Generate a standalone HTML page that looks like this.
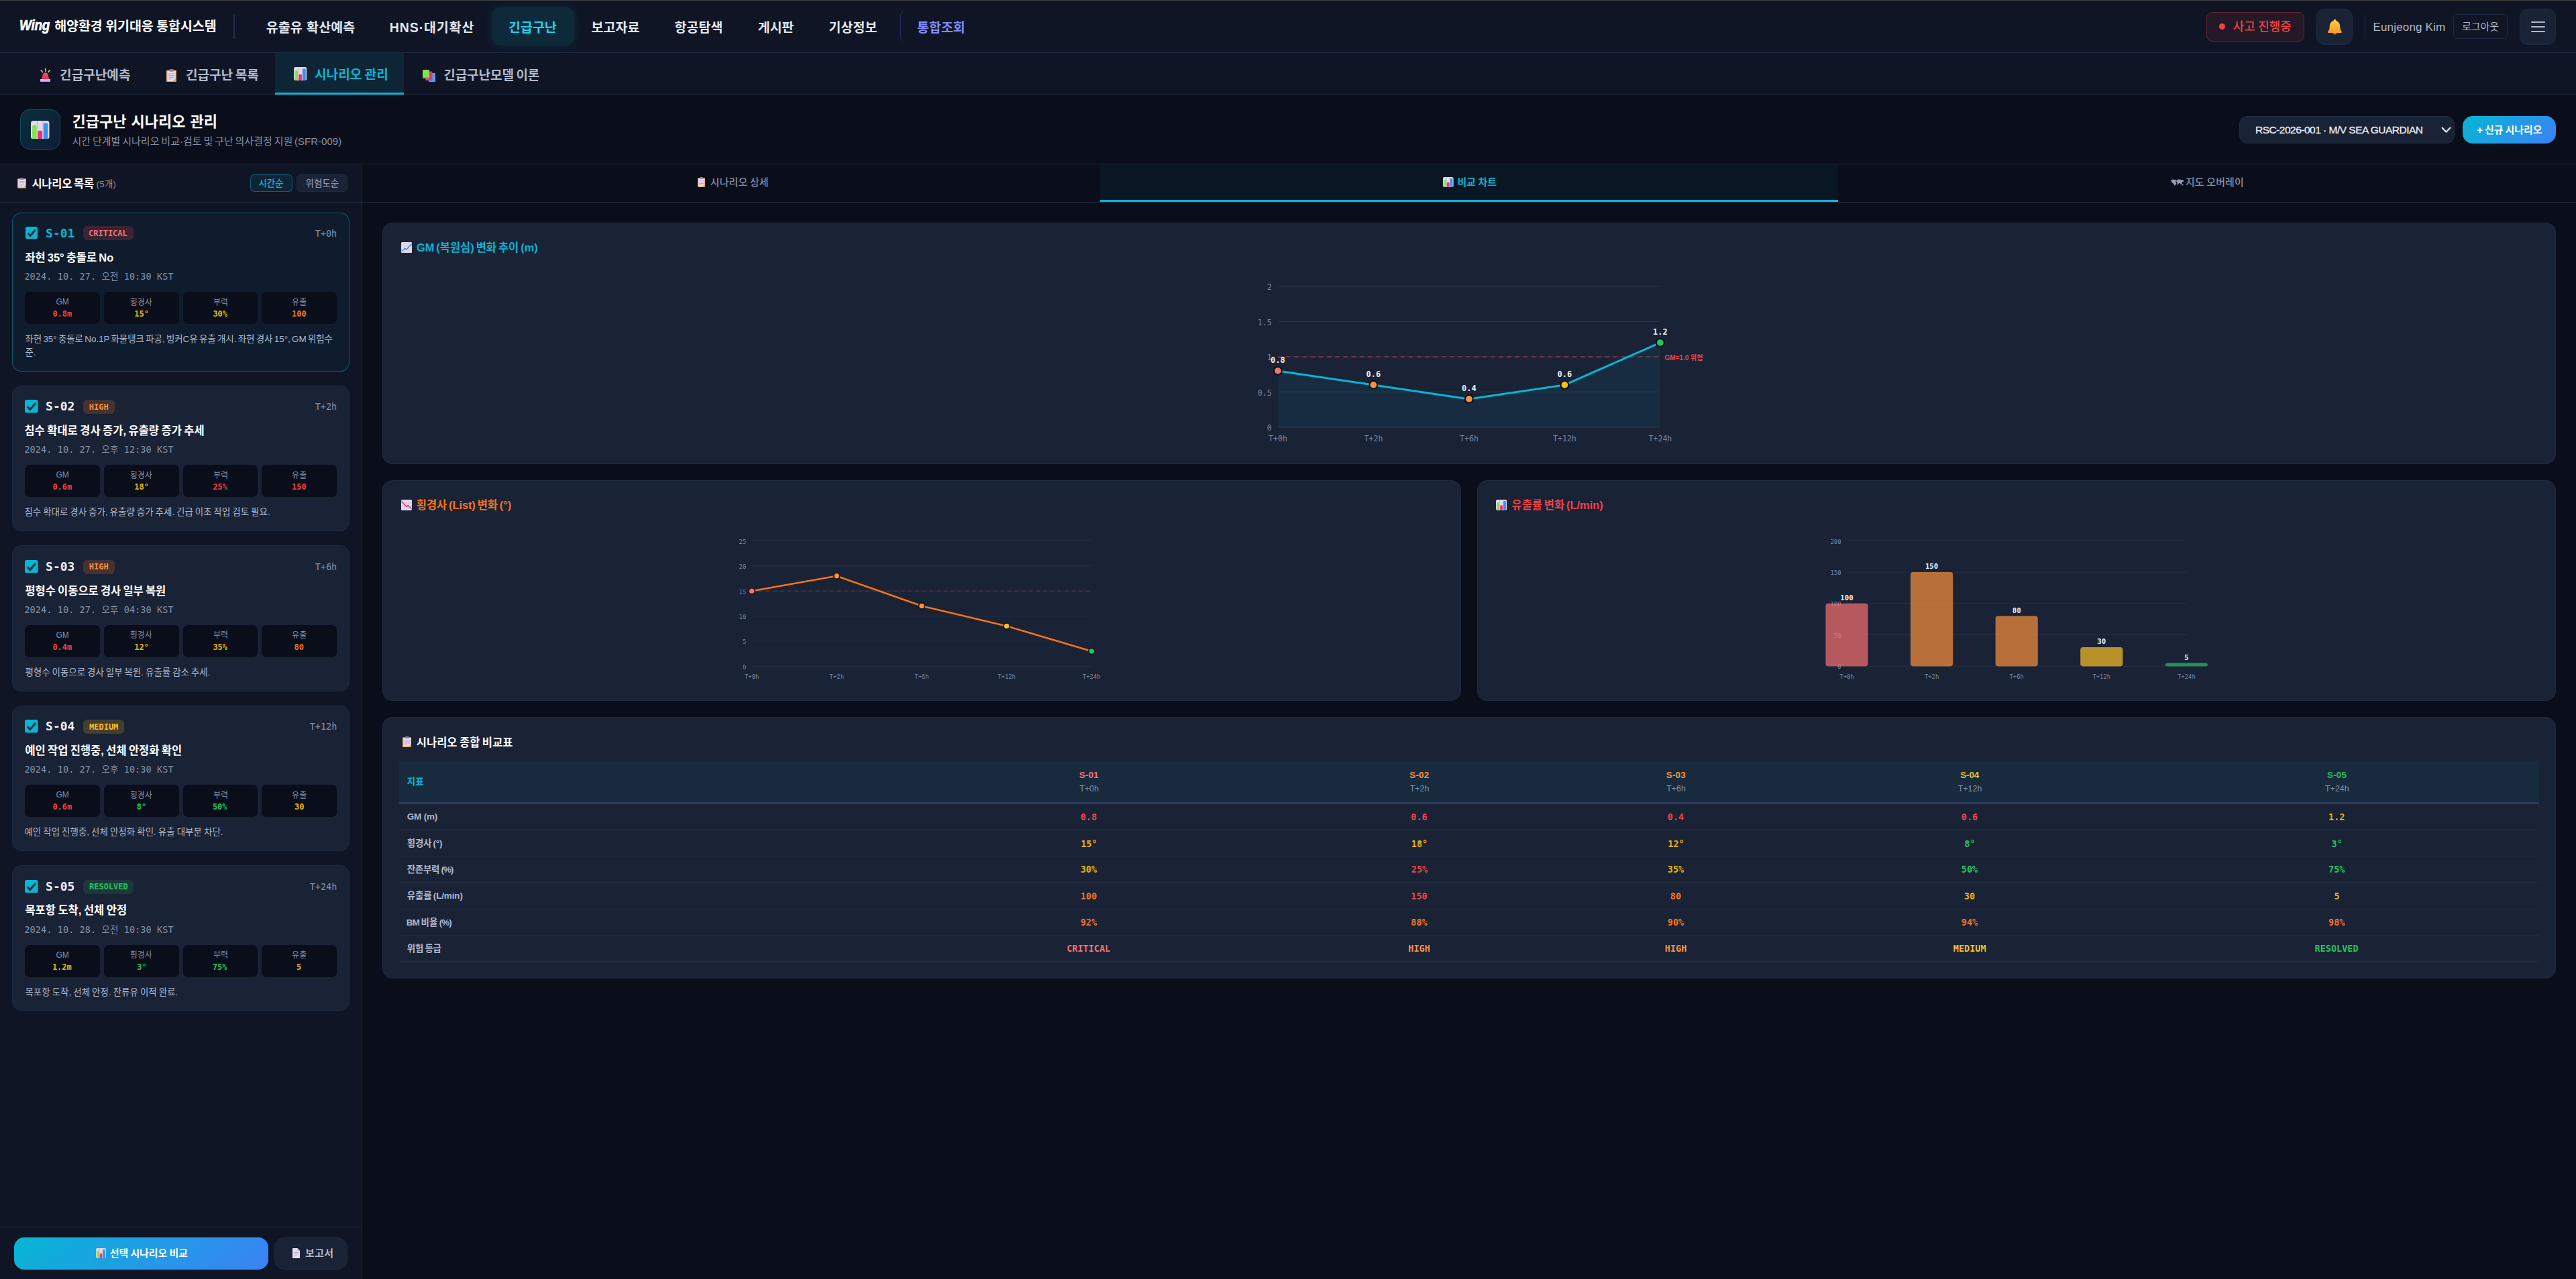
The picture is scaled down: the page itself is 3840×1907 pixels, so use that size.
<!DOCTYPE html>
<html lang="ko"><head><meta charset="utf-8"><title>해양환경 위기대응 통합시스템 - 긴급구난 시나리오 관리</title>
<style>
html,body{margin:0;padding:0;background:#0a0e1a}
body{position:relative;width:3840px;height:1907px;overflow:hidden;font-family:'Liberation Sans','Noto Sans CJK KR',sans-serif}
body>div,body>svg{position:absolute;box-sizing:border-box}
.t{white-space:nowrap;line-height:40px}
</style></head><body>
<div style="left:0px;top:0px;width:3840px;height:79px;background:#0f1524;border-bottom:1px solid #1e2a42"></div>
<div style="left:0px;top:0px;width:3840px;height:1px;background:#434341"></div>
<div class="t" style="left:28.5px;top:17.5px;font-size:22.5px;font-weight:700;font-style:italic;color:#fff;transform:scaleX(.84);transform-origin:0 50%;letter-spacing:-.3px;-webkit-text-stroke:.7px #fff">Wing</div>
<div class="t" style="left:81.2px;top:19px;font-size:19.5px;font-weight:700;color:#fff;letter-spacing:-0.06px;word-spacing:-0.90px;">해양환경 위기대응 통합시스템</div>
<div style="left:348px;top:21px;width:2px;height:37px;background:#222d47"></div>
<div style="left:733px;top:11px;width:122.5px;height:57px;background:rgba(6,182,212,.125);border-radius:13px;box-shadow:0 0 16px rgba(6,182,212,.13)"></div>
<div class="t" style="left:396.7px;top:21px;font-size:19.5px;font-weight:700;color:#e2e6f0;letter-spacing:0.14px;word-spacing:0.58px;">유출유 확산예측</div>
<div class="t" style="left:580.8px;top:21px;font-size:19.5px;font-weight:700;color:#e2e6f0;letter-spacing:0.89px;">HNS·대기확산</div>
<div class="t" style="left:758.0px;top:21px;font-size:19.5px;font-weight:700;color:#22d3ee;">긴급구난</div>
<div class="t" style="left:881.6px;top:21px;font-size:19.5px;font-weight:700;color:#e2e6f0;">보고자료</div>
<div class="t" style="left:1005.6px;top:21px;font-size:19.5px;font-weight:700;color:#e2e6f0;">항공탐색</div>
<div class="t" style="left:1129.7px;top:21px;font-size:19.5px;font-weight:700;color:#e2e6f0;">게시판</div>
<div class="t" style="left:1235.6px;top:21px;font-size:19.5px;font-weight:700;color:#e2e6f0;">기상정보</div>
<div style="left:1342px;top:12px;width:40px;height:55px;border-left:1px solid rgba(99,102,241,.28);border-radius:12px 0 0 12px"></div>
<div class="t" style="left:1367.0px;top:21px;font-size:19.5px;font-weight:700;color:#818cf8;">통합조회</div>
<div style="left:3289px;top:18px;width:146px;height:44px;background:rgba(239,68,68,.10);border:1px solid rgba(239,68,68,.30);border-radius:9px;"></div>
<div style="left:3308.3px;top:35.3px;width:9px;height:9px;background:#ef4444;border-radius:50%"></div>
<div class="t" style="left:3328.8px;top:20px;font-size:18px;font-weight:500;color:#ef4444;letter-spacing:-0.08px;word-spacing:-0.40px;">사고 진행중</div>
<div style="left:3453px;top:13px;width:54px;height:54px;background:#1a2236;border:1px solid #1e2a42;border-radius:12px;"></div>
<svg style="left:3467.5px;top:28px" width="25" height="25" viewBox="0 0 24 24" preserveAspectRatio="none"><defs><linearGradient id="bg1" x1="0" y1="0" x2="0" y2="1"><stop offset="0" stop-color="#ffd23f"/><stop offset="1" stop-color="#f79a2e"/></linearGradient></defs><path d="M9.2 20.4a2.9 2.9 0 0 0 5.6 0z" fill="#e8802a"/><path d="M12 0.6c-1 0-1.8 0.8-1.8 1.8v0.4C6.8 3.7 4.6 6.8 4.6 10.4c0 4-0.9 6.2-2.4 7.8-0.7 0.7-0.2 1.9 0.8 1.9h18c1 0 1.5-1.2 0.8-1.9-1.5-1.6-2.4-3.8-2.4-7.8 0-3.6-2.2-6.7-5.6-7.6v-0.4c0-1-0.8-1.8-1.8-1.8z" fill="url(#bg1)"/></svg>
<div style="left:3525px;top:21px;width:1px;height:37px;background:#1e2a42"></div>
<div class="t" style="left:3537.5px;top:21px;font-size:17px;font-weight:400;color:#b0b8cc;letter-spacing:0.16px;">Eunjeong Kim</div>
<div style="left:3657px;top:21px;width:81px;height:37px;background:transparent;border:1px solid #1e2a42;border-radius:6px;"></div>
<div class="t" style="left:3669.9px;top:20px;font-size:15px;font-weight:400;color:#b0b8cc;">로그아웃</div>
<div style="left:3756px;top:13px;width:54px;height:54px;background:#1a2236;border:1px solid #1e2a42;border-radius:12px;"></div>
<div style="left:3773px;top:32.2px;width:20.5px;height:2px;background:#b0b8cc;border-radius:1px"></div>
<div style="left:3773px;top:39px;width:20.5px;height:2px;background:#b0b8cc;border-radius:1px"></div>
<div style="left:3773px;top:45.8px;width:20.5px;height:2px;background:#b0b8cc;border-radius:1px"></div>
<div style="left:0px;top:79px;width:3840px;height:63px;background:#0f1524;border-bottom:1px solid #1e2a42"></div>
<div style="left:410px;top:79px;width:192px;height:62px;background:rgba(6,182,212,.10);border-bottom:3px solid #06b6d4"></div>
<svg style="left:59.8px;top:102px" width="15.3" height="20" viewBox="0 0 16 20" preserveAspectRatio="none"><defs><linearGradient id="sg1" x1="0" y1="0" x2="0" y2="1"><stop offset="0" stop-color="#ff4a4a"/><stop offset="1" stop-color="#f2295b"/></linearGradient><linearGradient id="sg2" x1="0" y1="0" x2="0" y2="1"><stop offset="0" stop-color="#e6d0f8"/><stop offset="1" stop-color="#b98fe0"/></linearGradient></defs><path d="M2.2 16.4L3.8 9.8C4.3 7.6 6 6.2 8 6.2s3.700 1.400 4.200 3.600l1.600 6.600z" fill="url(#sg1)"/><ellipse cx="9.8" cy="8.600" rx="1.100" ry=".8" fill="#ff9aa6"/><rect x="0" y="16" width="16" height="4" rx=".8" fill="url(#sg2)"/><path d="M8 0.600v3.600M1.200 2.800l2.400 2.600M14.800 2.800l-2.400 2.600" stroke="#ffc53a" stroke-width="1.600" stroke-linecap="round" fill="none"/></svg>
<div class="t" style="left:89.1px;top:93px;font-size:19.1px;font-weight:700;color:#b0b8cc;">긴급구난예측</div>
<svg style="left:248px;top:102.5px" width="15.2" height="19.4" viewBox="0 0 13 16" preserveAspectRatio="none"><rect x="0" y="1.2" width="13" height="14.8" rx="1.2" fill="#e39a62"/><rect x="1.2" y="2.4" width="10.6" height="12.4" rx=".5" fill="#e6deef"/><rect x="3.8" y="0" width="5.4" height="3" rx="1" fill="#8c8196"/><rect x="2.6" y="5.2" width="7.8" height=".9" fill="#b3a8c2"/><rect x="2.6" y="7.4" width="7.8" height=".9" fill="#b3a8c2"/><rect x="2.6" y="9.6" width="7.8" height=".9" fill="#b3a8c2"/><rect x="2.6" y="11.8" width="4.4" height=".9" fill="#b3a8c2"/><path d="M8.4 14.8l3.4-3.4v3.4z" fill="#e39a62"/></svg>
<div class="t" style="left:277.0px;top:93px;font-size:19.1px;font-weight:700;color:#b0b8cc;letter-spacing:-0.07px;word-spacing:-1.40px;">긴급구난 목록</div>
<svg style="left:437.8px;top:100px" width="19.2" height="20" viewBox="0 0 16 16" preserveAspectRatio="none"><rect x="0" y="0" width="16" height="16" rx="2.2" fill="#e1d9ea"/><rect x="5.1" y="0" width=".8" height="16" fill="#c6bcd4"/><rect x="10.1" y="0" width=".8" height="16" fill="#c6bcd4"/><rect x="1.2" y="4" width="3.8" height="12" rx="1.1" fill="#86e052"/><rect x="6.1" y="8.6" width="3.8" height="7.4" rx="1.1" fill="#ee2f78"/><rect x="11" y="2" width="3.8" height="14" rx="1.1" fill="#3a8ff0"/></svg>
<div class="t" style="left:469.0px;top:92px;font-size:19.1px;font-weight:700;color:#06b6d4;word-spacing:-1.00px;">시나리오 관리</div>
<svg style="left:630px;top:103.6px" width="19" height="18.4" viewBox="0 0 19 18" preserveAspectRatio="none"><rect x="9" y="5" width="10" height="13" rx="1" fill="#45a8f5"/><rect x="9" y="16.4" width="10" height="1.6" fill="#7f8be0"/><rect x="4.5" y="2.4" width="10" height="13" rx="1" fill="#ee2f78"/><rect x="4.5" y="13.8" width="10" height="1.6" fill="#c04a9a"/><rect x="0" y="0" width="10" height="12.6" rx="1" fill="#86e052"/><rect x="0" y="11" width="10" height="1.6" fill="#6bb850"/></svg>
<div class="t" style="left:661.2px;top:93px;font-size:19.1px;font-weight:700;color:#b0b8cc;letter-spacing:-0.10px;word-spacing:-1.80px;">긴급구난모델 이론</div>
<div style="left:0px;top:142px;width:3840px;height:103px;background:#0a0e1a;border-bottom:1px solid #1e2a42"></div>
<div style="left:30px;top:163px;width:60px;height:60px;background:linear-gradient(135deg,rgba(6,182,212,.20),rgba(59,130,246,.12));border:1px solid rgba(6,182,212,.30);border-radius:15px;"></div>
<svg style="left:46px;top:179.5px" width="27.5" height="27.5" viewBox="0 0 16 16" preserveAspectRatio="none"><rect x="0" y="0" width="16" height="16" rx="2.2" fill="#e1d9ea"/><rect x="5.1" y="0" width=".8" height="16" fill="#c6bcd4"/><rect x="10.1" y="0" width=".8" height="16" fill="#c6bcd4"/><rect x="1.2" y="4" width="3.8" height="12" rx="1.1" fill="#86e052"/><rect x="6.1" y="8.6" width="3.8" height="7.4" rx="1.1" fill="#ee2f78"/><rect x="11" y="2" width="3.8" height="14" rx="1.1" fill="#3a8ff0"/></svg>
<div class="t" style="left:107.5px;top:162px;font-size:22px;font-weight:700;color:#fff;letter-spacing:0.05px;word-spacing:0.66px;">긴급구난 시나리오 관리</div>
<div class="t" style="left:107.5px;top:191px;font-size:15px;font-weight:400;color:#8690a6;word-spacing:-1.29px;">시간 단계별 시나리오 비교·검토 및 구난 의사결정 지원 (SFR-009)</div>
<div style="left:3338px;top:173px;width:321px;height:41px;background:#1a2236;border:1px solid #1e2a42;border-radius:12px;"></div>
<div class="t" style="left:3362.0px;top:174px;font-size:15.5px;font-weight:400;color:#edf0f7;letter-spacing:-0.51px;-webkit-text-stroke:.3px #edf0f7;">RSC-2026-001 · M/V SEA GUARDIAN</div>
<svg style="left:3639px;top:189px" width="15" height="10" viewBox="0 0 15 10" preserveAspectRatio="none"><path d="M1.5 1.5L7.5 7.8L13.5 1.5" stroke="#edf0f7" stroke-width="2" fill="none" stroke-linecap="round" stroke-linejoin="round"/></svg>
<div style="left:3671px;top:173px;width:139px;height:41px;background:linear-gradient(135deg,#06b6d4,#3b82f6);border-radius:15px;"></div>
<div class="t" style="left:3692.3px;top:174px;font-size:15px;font-weight:700;color:#fff;letter-spacing:-0.04px;word-spacing:-1.15px;">+ 신규 시나리오</div>
<div style="left:0px;top:245px;width:540px;height:1662px;background:#0f1524;border-right:1px solid #1e2a42"></div>
<div style="left:0px;top:301px;width:539px;height:1px;background:#1e2a42"></div>
<svg style="left:26px;top:265.3px" width="13" height="15.7" viewBox="0 0 13 16" preserveAspectRatio="none"><rect x="0" y="1.2" width="13" height="14.8" rx="1.2" fill="#e39a62"/><rect x="1.2" y="2.4" width="10.6" height="12.4" rx=".5" fill="#e6deef"/><rect x="3.8" y="0" width="5.4" height="3" rx="1" fill="#8c8196"/><rect x="2.6" y="5.2" width="7.8" height=".9" fill="#b3a8c2"/><rect x="2.6" y="7.4" width="7.8" height=".9" fill="#b3a8c2"/><rect x="2.6" y="9.6" width="7.8" height=".9" fill="#b3a8c2"/><rect x="2.6" y="11.8" width="4.4" height=".9" fill="#b3a8c2"/><path d="M8.4 14.8l3.4-3.4v3.4z" fill="#e39a62"/></svg>
<div class="t" style="left:47.4px;top:254px;font-size:16.5px;font-weight:700;color:#fff;letter-spacing:-0.20px;word-spacing:-1.57px;">시나리오 목록</div>
<div class="t" style="left:143.6px;top:255px;font-size:13.5px;font-weight:400;color:#8690a6;letter-spacing:0.20px;">(5개)</div>
<div style="left:373px;top:260px;width:63px;height:26px;background:rgba(6,182,212,.10);border:1px solid rgba(6,182,212,.40);border-radius:6px;"></div>
<div class="t" style="left:385.4px;top:254px;font-size:13.5px;font-weight:500;color:#06b6d4;">시간순</div>
<div style="left:442px;top:260px;width:76px;height:26px;background:#1a2236;border:1px solid #1e2a42;border-radius:6px;"></div>
<div class="t" style="left:455.6px;top:254px;font-size:13.5px;font-weight:500;color:#8690a6;">위험도순</div>
<div style="left:18px;top:317px;width:503px;height:237px;background:rgba(6,182,212,.05);border:1px solid rgba(6,182,212,.40);border-radius:13.5px;"></div>
<svg style="left:37.9px;top:338px" width="18.1" height="18.1" viewBox="0 0 13 13" preserveAspectRatio="none"><rect width="13" height="13" rx="2" fill="#06b6d4"/><path d="M2.5 6.9L5.2 9.7L10.7 3.3" stroke="#333a40" stroke-width="2.2" fill="none"/></svg>
<div class="t" style="left:68.1px;top:328px;font-size:18px;font-weight:700;color:#06b6d4;font-family:'DejaVu Sans Mono','Liberation Mono','Noto Sans CJK KR',monospace;">S-01</div>
<div style="left:124px;top:337px;width:75px;height:21px;background:rgba(239,68,68,.20);border-radius:6px;"></div>
<div class="t" style="left:132.0px;top:328px;font-size:12px;font-weight:700;color:#f87171;font-family:'DejaVu Sans Mono','Liberation Mono','Noto Sans CJK KR',monospace;">CRITICAL</div>
<div class="t" style="left:469.7px;top:328px;font-size:13.5px;font-weight:400;color:#8690a6;font-family:'DejaVu Sans Mono','Liberation Mono','Noto Sans CJK KR',monospace;">T+0h</div>
<div class="t" style="left:37.4px;top:364px;font-size:16.5px;font-weight:700;color:#fff;letter-spacing:-0.03px;word-spacing:-1.47px;">좌현 35° 충돌로 No</div>
<div class="t" style="left:36.4px;top:392px;font-size:13.5px;font-weight:400;color:#8690a6;font-family:'DejaVu Sans Mono','Liberation Mono','Noto Sans CJK KR',monospace;letter-spacing:0.09px;">2024. 10. 27. 오전 10:30 KST</div>
<div style="left:37.0px;top:435px;width:111.75px;height:48px;background:#0a0e1a;border-radius:7px;"></div>
<div class="t" style="left:83.4px;top:430px;font-size:12px;font-weight:400;color:#8690a6;">GM</div>
<div class="t" style="left:78.4px;top:448px;font-size:12px;font-weight:700;color:#ef4444;font-family:'DejaVu Sans Mono','Liberation Mono','Noto Sans CJK KR',monospace;">0.8m</div>
<div style="left:154.8px;top:435px;width:111.75px;height:48px;background:#0a0e1a;border-radius:7px;"></div>
<div class="t" style="left:193.7px;top:431px;font-size:12px;font-weight:400;color:#8690a6;">횡경사</div>
<div class="t" style="left:200.2px;top:448px;font-size:12px;font-weight:700;color:#eab308;font-family:'DejaVu Sans Mono','Liberation Mono','Noto Sans CJK KR',monospace;">15°</div>
<div style="left:272.5px;top:435px;width:111.75px;height:48px;background:#0a0e1a;border-radius:7px;"></div>
<div class="t" style="left:317.9px;top:431px;font-size:12px;font-weight:400;color:#8690a6;">부력</div>
<div class="t" style="left:317.4px;top:448px;font-size:12px;font-weight:700;color:#eab308;font-family:'DejaVu Sans Mono','Liberation Mono','Noto Sans CJK KR',monospace;">30%</div>
<div style="left:390.2px;top:435px;width:111.75px;height:48px;background:#0a0e1a;border-radius:7px;"></div>
<div class="t" style="left:435.1px;top:431px;font-size:12px;font-weight:400;color:#8690a6;">유출</div>
<div class="t" style="left:435.1px;top:448px;font-size:12px;font-weight:700;color:#f97316;font-family:'DejaVu Sans Mono','Liberation Mono','Noto Sans CJK KR',monospace;">100</div>
<div class="t" style="left:37.4px;top:486px;font-size:13.5px;font-weight:400;color:#b0b8cc;letter-spacing:-0.09px;word-spacing:-1.28px;">좌현 35° 충돌로 No.1P 화물탱크 파공, 벙커C유 유출 개시. 좌현 경사 15°, GM 위험수</div>
<div class="t" style="left:37.4px;top:506px;font-size:13.5px;font-weight:400;color:#b0b8cc;">준.</div>
<div style="left:18px;top:575px;width:503px;height:217px;background:#1a2236;border:1px solid #1e2a42;border-radius:13.5px;"></div>
<svg style="left:37.1px;top:596px" width="19.6" height="19.6" viewBox="0 0 13 13" preserveAspectRatio="none"><rect width="13" height="13" rx="2" fill="#06b6d4"/><path d="M2.5 6.9L5.2 9.7L10.7 3.3" stroke="#333a40" stroke-width="2.2" fill="none"/></svg>
<div class="t" style="left:68.1px;top:586px;font-size:18px;font-weight:700;color:#edf0f7;font-family:'DejaVu Sans Mono','Liberation Mono','Noto Sans CJK KR',monospace;">S-02</div>
<div style="left:124px;top:596px;width:46.5px;height:21px;background:rgba(249,115,22,.20);border-radius:6px;"></div>
<div class="t" style="left:132.8px;top:587px;font-size:12px;font-weight:700;color:#fb923c;font-family:'DejaVu Sans Mono','Liberation Mono','Noto Sans CJK KR',monospace;">HIGH</div>
<div class="t" style="left:469.7px;top:586px;font-size:13.5px;font-weight:400;color:#8690a6;font-family:'DejaVu Sans Mono','Liberation Mono','Noto Sans CJK KR',monospace;">T+2h</div>
<div class="t" style="left:36.4px;top:622px;font-size:16.5px;font-weight:700;color:#fff;word-spacing:-1.12px;">침수 확대로 경사 증가, 유출량 증가 추세</div>
<div class="t" style="left:36.4px;top:650px;font-size:13.5px;font-weight:400;color:#8690a6;font-family:'DejaVu Sans Mono','Liberation Mono','Noto Sans CJK KR',monospace;letter-spacing:0.09px;">2024. 10. 27. 오후 12:30 KST</div>
<div style="left:37.0px;top:693px;width:111.75px;height:48px;background:#0a0e1a;border-radius:7px;"></div>
<div class="t" style="left:83.4px;top:688px;font-size:12px;font-weight:400;color:#8690a6;">GM</div>
<div class="t" style="left:78.4px;top:706px;font-size:12px;font-weight:700;color:#ef4444;font-family:'DejaVu Sans Mono','Liberation Mono','Noto Sans CJK KR',monospace;">0.6m</div>
<div style="left:154.8px;top:693px;width:111.75px;height:48px;background:#0a0e1a;border-radius:7px;"></div>
<div class="t" style="left:193.7px;top:689px;font-size:12px;font-weight:400;color:#8690a6;">횡경사</div>
<div class="t" style="left:200.2px;top:706px;font-size:12px;font-weight:700;color:#eab308;font-family:'DejaVu Sans Mono','Liberation Mono','Noto Sans CJK KR',monospace;">18°</div>
<div style="left:272.5px;top:693px;width:111.75px;height:48px;background:#0a0e1a;border-radius:7px;"></div>
<div class="t" style="left:317.9px;top:689px;font-size:12px;font-weight:400;color:#8690a6;">부력</div>
<div class="t" style="left:317.4px;top:706px;font-size:12px;font-weight:700;color:#ef4444;font-family:'DejaVu Sans Mono','Liberation Mono','Noto Sans CJK KR',monospace;">25%</div>
<div style="left:390.2px;top:693px;width:111.75px;height:48px;background:#0a0e1a;border-radius:7px;"></div>
<div class="t" style="left:435.1px;top:689px;font-size:12px;font-weight:400;color:#8690a6;">유출</div>
<div class="t" style="left:435.1px;top:706px;font-size:12px;font-weight:700;color:#ef4444;font-family:'DejaVu Sans Mono','Liberation Mono','Noto Sans CJK KR',monospace;">150</div>
<div class="t" style="left:36.4px;top:744px;font-size:13.5px;font-weight:400;color:#b0b8cc;word-spacing:-0.83px;">침수 확대로 경사 증가, 유출량 증가 추세. 긴급 이초 작업 검토 필요.</div>
<div style="left:18px;top:813px;width:503px;height:218px;background:#1a2236;border:1px solid #1e2a42;border-radius:13.5px;"></div>
<svg style="left:37.1px;top:834.5px" width="19.6" height="19.6" viewBox="0 0 13 13" preserveAspectRatio="none"><rect width="13" height="13" rx="2" fill="#06b6d4"/><path d="M2.5 6.9L5.2 9.7L10.7 3.3" stroke="#333a40" stroke-width="2.2" fill="none"/></svg>
<div class="t" style="left:68.1px;top:825px;font-size:18px;font-weight:700;color:#edf0f7;font-family:'DejaVu Sans Mono','Liberation Mono','Noto Sans CJK KR',monospace;">S-03</div>
<div style="left:124px;top:834.5px;width:46.5px;height:21px;background:rgba(249,115,22,.20);border-radius:6px;"></div>
<div class="t" style="left:132.8px;top:825px;font-size:12px;font-weight:700;color:#fb923c;font-family:'DejaVu Sans Mono','Liberation Mono','Noto Sans CJK KR',monospace;">HIGH</div>
<div class="t" style="left:469.7px;top:825px;font-size:13.5px;font-weight:400;color:#8690a6;font-family:'DejaVu Sans Mono','Liberation Mono','Noto Sans CJK KR',monospace;">T+6h</div>
<div class="t" style="left:37.4px;top:861px;font-size:16.5px;font-weight:700;color:#fff;word-spacing:-1.45px;">평형수 이동으로 경사 일부 복원</div>
<div class="t" style="left:36.4px;top:889px;font-size:13.5px;font-weight:400;color:#8690a6;font-family:'DejaVu Sans Mono','Liberation Mono','Noto Sans CJK KR',monospace;letter-spacing:0.09px;">2024. 10. 27. 오후 04:30 KST</div>
<div style="left:37.0px;top:931.5px;width:111.75px;height:48px;background:#0a0e1a;border-radius:7px;"></div>
<div class="t" style="left:83.4px;top:927px;font-size:12px;font-weight:400;color:#8690a6;">GM</div>
<div class="t" style="left:78.4px;top:945px;font-size:12px;font-weight:700;color:#ef4444;font-family:'DejaVu Sans Mono','Liberation Mono','Noto Sans CJK KR',monospace;">0.4m</div>
<div style="left:154.8px;top:931.5px;width:111.75px;height:48px;background:#0a0e1a;border-radius:7px;"></div>
<div class="t" style="left:193.7px;top:927px;font-size:12px;font-weight:400;color:#8690a6;">횡경사</div>
<div class="t" style="left:200.2px;top:945px;font-size:12px;font-weight:700;color:#eab308;font-family:'DejaVu Sans Mono','Liberation Mono','Noto Sans CJK KR',monospace;">12°</div>
<div style="left:272.5px;top:931.5px;width:111.75px;height:48px;background:#0a0e1a;border-radius:7px;"></div>
<div class="t" style="left:317.9px;top:927px;font-size:12px;font-weight:400;color:#8690a6;">부력</div>
<div class="t" style="left:317.4px;top:945px;font-size:12px;font-weight:700;color:#eab308;font-family:'DejaVu Sans Mono','Liberation Mono','Noto Sans CJK KR',monospace;">35%</div>
<div style="left:390.2px;top:931.5px;width:111.75px;height:48px;background:#0a0e1a;border-radius:7px;"></div>
<div class="t" style="left:435.1px;top:927px;font-size:12px;font-weight:400;color:#8690a6;">유출</div>
<div class="t" style="left:438.6px;top:945px;font-size:12px;font-weight:700;color:#f97316;font-family:'DejaVu Sans Mono','Liberation Mono','Noto Sans CJK KR',monospace;">80</div>
<div class="t" style="left:37.4px;top:983px;font-size:13.5px;font-weight:400;color:#b0b8cc;word-spacing:-0.87px;">평형수 이동으로 경사 일부 복원. 유출률 감소 추세.</div>
<div style="left:18px;top:1052px;width:503px;height:217px;background:#1a2236;border:1px solid #1e2a42;border-radius:13.5px;"></div>
<svg style="left:37.1px;top:1073px" width="19.6" height="19.6" viewBox="0 0 13 13" preserveAspectRatio="none"><rect width="13" height="13" rx="2" fill="#06b6d4"/><path d="M2.5 6.9L5.2 9.7L10.7 3.3" stroke="#333a40" stroke-width="2.2" fill="none"/></svg>
<div class="t" style="left:68.1px;top:1063px;font-size:18px;font-weight:700;color:#edf0f7;font-family:'DejaVu Sans Mono','Liberation Mono','Noto Sans CJK KR',monospace;">S-04</div>
<div style="left:124px;top:1073px;width:61px;height:21px;background:rgba(234,179,8,.20);border-radius:6px;"></div>
<div class="t" style="left:133.0px;top:1064px;font-size:12px;font-weight:700;color:#fbbf24;font-family:'DejaVu Sans Mono','Liberation Mono','Noto Sans CJK KR',monospace;">MEDIUM</div>
<div class="t" style="left:461.7px;top:1063px;font-size:13.5px;font-weight:400;color:#8690a6;font-family:'DejaVu Sans Mono','Liberation Mono','Noto Sans CJK KR',monospace;">T+12h</div>
<div class="t" style="left:37.4px;top:1099px;font-size:16.5px;font-weight:700;color:#fff;word-spacing:-1.26px;">예인 작업 진행중, 선체 안정화 확인</div>
<div class="t" style="left:36.4px;top:1127px;font-size:13.5px;font-weight:400;color:#8690a6;font-family:'DejaVu Sans Mono','Liberation Mono','Noto Sans CJK KR',monospace;letter-spacing:0.09px;">2024. 10. 27. 오후 10:30 KST</div>
<div style="left:37.0px;top:1170px;width:111.75px;height:48px;background:#0a0e1a;border-radius:7px;"></div>
<div class="t" style="left:83.4px;top:1165px;font-size:12px;font-weight:400;color:#8690a6;">GM</div>
<div class="t" style="left:78.4px;top:1183px;font-size:12px;font-weight:700;color:#ef4444;font-family:'DejaVu Sans Mono','Liberation Mono','Noto Sans CJK KR',monospace;">0.6m</div>
<div style="left:154.8px;top:1170px;width:111.75px;height:48px;background:#0a0e1a;border-radius:7px;"></div>
<div class="t" style="left:193.7px;top:1166px;font-size:12px;font-weight:400;color:#8690a6;">횡경사</div>
<div class="t" style="left:203.7px;top:1183px;font-size:12px;font-weight:700;color:#22c55e;font-family:'DejaVu Sans Mono','Liberation Mono','Noto Sans CJK KR',monospace;">8°</div>
<div style="left:272.5px;top:1170px;width:111.75px;height:48px;background:#0a0e1a;border-radius:7px;"></div>
<div class="t" style="left:317.9px;top:1166px;font-size:12px;font-weight:400;color:#8690a6;">부력</div>
<div class="t" style="left:316.9px;top:1183px;font-size:12px;font-weight:700;color:#22c55e;font-family:'DejaVu Sans Mono','Liberation Mono','Noto Sans CJK KR',monospace;">50%</div>
<div style="left:390.2px;top:1170px;width:111.75px;height:48px;background:#0a0e1a;border-radius:7px;"></div>
<div class="t" style="left:435.1px;top:1166px;font-size:12px;font-weight:400;color:#8690a6;">유출</div>
<div class="t" style="left:439.1px;top:1183px;font-size:12px;font-weight:700;color:#eab308;font-family:'DejaVu Sans Mono','Liberation Mono','Noto Sans CJK KR',monospace;">30</div>
<div class="t" style="left:36.4px;top:1221px;font-size:13.5px;font-weight:400;color:#b0b8cc;word-spacing:-0.74px;">예인 작업 진행중, 선체 안정화 확인. 유출 대부분 차단.</div>
<div style="left:18px;top:1290px;width:503px;height:217px;background:#1a2236;border:1px solid #1e2a42;border-radius:13.5px;"></div>
<svg style="left:37.1px;top:1311.5px" width="19.6" height="19.6" viewBox="0 0 13 13" preserveAspectRatio="none"><rect width="13" height="13" rx="2" fill="#06b6d4"/><path d="M2.5 6.9L5.2 9.7L10.7 3.3" stroke="#333a40" stroke-width="2.2" fill="none"/></svg>
<div class="t" style="left:68.1px;top:1302px;font-size:18px;font-weight:700;color:#edf0f7;font-family:'DejaVu Sans Mono','Liberation Mono','Noto Sans CJK KR',monospace;">S-05</div>
<div style="left:124px;top:1311.5px;width:75px;height:21px;background:rgba(34,197,94,.15);border-radius:6px;"></div>
<div class="t" style="left:133.0px;top:1302px;font-size:12px;font-weight:700;color:#22c55e;font-family:'DejaVu Sans Mono','Liberation Mono','Noto Sans CJK KR',monospace;">RESOLVED</div>
<div class="t" style="left:461.7px;top:1302px;font-size:13.5px;font-weight:400;color:#8690a6;font-family:'DejaVu Sans Mono','Liberation Mono','Noto Sans CJK KR',monospace;">T+24h</div>
<div class="t" style="left:37.4px;top:1337px;font-size:16.5px;font-weight:700;color:#fff;word-spacing:-1.07px;">목포항 도착, 선체 안정</div>
<div class="t" style="left:36.4px;top:1366px;font-size:13.5px;font-weight:400;color:#8690a6;font-family:'DejaVu Sans Mono','Liberation Mono','Noto Sans CJK KR',monospace;letter-spacing:0.09px;">2024. 10. 28. 오전 10:30 KST</div>
<div style="left:37.0px;top:1408.5px;width:111.75px;height:48px;background:#0a0e1a;border-radius:7px;"></div>
<div class="t" style="left:83.4px;top:1404px;font-size:12px;font-weight:400;color:#8690a6;">GM</div>
<div class="t" style="left:77.9px;top:1422px;font-size:12px;font-weight:700;color:#eab308;font-family:'DejaVu Sans Mono','Liberation Mono','Noto Sans CJK KR',monospace;">1.2m</div>
<div style="left:154.8px;top:1408.5px;width:111.75px;height:48px;background:#0a0e1a;border-radius:7px;"></div>
<div class="t" style="left:193.7px;top:1404px;font-size:12px;font-weight:400;color:#8690a6;">횡경사</div>
<div class="t" style="left:204.2px;top:1422px;font-size:12px;font-weight:700;color:#22c55e;font-family:'DejaVu Sans Mono','Liberation Mono','Noto Sans CJK KR',monospace;">3°</div>
<div style="left:272.5px;top:1408.5px;width:111.75px;height:48px;background:#0a0e1a;border-radius:7px;"></div>
<div class="t" style="left:317.9px;top:1404px;font-size:12px;font-weight:400;color:#8690a6;">부력</div>
<div class="t" style="left:316.9px;top:1422px;font-size:12px;font-weight:700;color:#22c55e;font-family:'DejaVu Sans Mono','Liberation Mono','Noto Sans CJK KR',monospace;">75%</div>
<div style="left:390.2px;top:1408.5px;width:111.75px;height:48px;background:#0a0e1a;border-radius:7px;"></div>
<div class="t" style="left:435.1px;top:1404px;font-size:12px;font-weight:400;color:#8690a6;">유출</div>
<div class="t" style="left:442.1px;top:1422px;font-size:12px;font-weight:700;color:#eab308;font-family:'DejaVu Sans Mono','Liberation Mono','Noto Sans CJK KR',monospace;">5</div>
<div class="t" style="left:37.4px;top:1460px;font-size:13.5px;font-weight:400;color:#b0b8cc;letter-spacing:0.03px;word-spacing:-0.87px;">목포항 도착, 선체 안정. 잔류유 이적 완료.</div>
<div style="left:0px;top:1829px;width:539px;height:1px;background:#1e2a42"></div>
<div style="left:21px;top:1845px;width:379px;height:48px;background:linear-gradient(135deg,#06b6d4,#3b82f6);border-radius:15px;"></div>
<svg style="left:143.2px;top:1861px" width="15" height="15" viewBox="0 0 16 16" preserveAspectRatio="none"><rect x="0" y="0" width="16" height="16" rx="2.2" fill="#e1d9ea"/><rect x="5.1" y="0" width=".8" height="16" fill="#c6bcd4"/><rect x="10.1" y="0" width=".8" height="16" fill="#c6bcd4"/><rect x="1.2" y="4" width="3.8" height="12" rx="1.1" fill="#86e052"/><rect x="6.1" y="8.6" width="3.8" height="7.4" rx="1.1" fill="#ee2f78"/><rect x="11" y="2" width="3.8" height="14" rx="1.1" fill="#3a8ff0"/></svg>
<div class="t" style="left:163.8px;top:1849px;font-size:15px;font-weight:700;color:#fff;letter-spacing:-0.09px;word-spacing:-0.90px;">선택 시나리오 비교</div>
<div style="left:409px;top:1845px;width:109px;height:48px;background:#1a2236;border:1px solid #1e2a42;border-radius:15px;"></div>
<svg style="left:435.9px;top:1861px" width="11.2" height="15" viewBox="0 0 12.5 16" preserveAspectRatio="none"><path d="M0 1.2C0 0.5 0.5 0 1.2 0H8.4L12.5 4.1V14.8c0 0.7-0.5 1.2-1.2 1.2H1.2C0.5 16 0 15.5 0 14.8z" fill="#e6deef"/><path d="M8.4 0v3c0 0.6 0.5 1.1 1.1 1.1h3z" fill="#b3a8c2"/><rect x="2.4" y="6.6" width="7.6" height=".9" fill="#b3a8c2"/><rect x="2.4" y="9" width="7.6" height=".9" fill="#b3a8c2"/><rect x="2.4" y="11.4" width="5" height=".9" fill="#b3a8c2"/></svg>
<div class="t" style="left:455.0px;top:1849px;font-size:15px;font-weight:600;color:#b0b8cc;letter-spacing:0.35px;">보고서</div>
<div style="left:540px;top:301px;width:3300px;height:1px;background:#1e2a42"></div>
<div style="left:1640px;top:245px;width:1100px;height:56px;background:rgba(6,182,212,.05);border-bottom:3px solid #06b6d4"></div>
<svg style="left:1039.9px;top:264px" width="11.2" height="15" viewBox="0 0 13 16" preserveAspectRatio="none"><rect x="0" y="1.2" width="13" height="14.8" rx="1.2" fill="#e39a62"/><rect x="1.2" y="2.4" width="10.6" height="12.4" rx=".5" fill="#e6deef"/><rect x="3.8" y="0" width="5.4" height="3" rx="1" fill="#8c8196"/><rect x="2.6" y="5.2" width="7.8" height=".9" fill="#b3a8c2"/><rect x="2.6" y="7.4" width="7.8" height=".9" fill="#b3a8c2"/><rect x="2.6" y="9.6" width="7.8" height=".9" fill="#b3a8c2"/><rect x="2.6" y="11.8" width="4.4" height=".9" fill="#b3a8c2"/><path d="M8.4 14.8l3.4-3.4v3.4z" fill="#e39a62"/></svg>
<div class="t" style="left:1058.8px;top:252px;font-size:15px;font-weight:500;color:#8690a6;letter-spacing:0.07px;word-spacing:-0.60px;">시나리오 상세</div>
<svg style="left:2151px;top:264px" width="15.6" height="15" viewBox="0 0 16 16" preserveAspectRatio="none"><rect x="0" y="0" width="16" height="16" rx="2.2" fill="#e1d9ea"/><rect x="5.1" y="0" width=".8" height="16" fill="#c6bcd4"/><rect x="10.1" y="0" width=".8" height="16" fill="#c6bcd4"/><rect x="1.2" y="4" width="3.8" height="12" rx="1.1" fill="#86e052"/><rect x="6.1" y="8.6" width="3.8" height="7.4" rx="1.1" fill="#ee2f78"/><rect x="11" y="2" width="3.8" height="14" rx="1.1" fill="#3a8ff0"/></svg>
<div class="t" style="left:2172.4px;top:252px;font-size:15px;font-weight:700;color:#06b6d4;letter-spacing:-0.10px;word-spacing:-0.40px;">비교 차트</div>
<svg style="left:3234.8px;top:266.7px" width="21" height="10.5" viewBox="0 0 30 16" preserveAspectRatio="none"><path d="M0.6 2.6l6-2 4.4 0.8 2.4 2.4-1.6 2.6 1.6 2.8-2 4-2.4 1.6-1.4-4-2.8-1.6-1.6-3.2z" fill="#9299b0"/><path d="M14 2l4.6-1.4 5.6 0.8 5.4 1.8-1.4 2.8-2.6 0.4-0.6 3.6-2.4 2.6-1.400-3-2.600-0.200-1.800 3.800-2-1.400 0.600-3.800-2.400-2.400z" fill="#9299b0"/><path d="M24 12l3-0.600 1.400 2.200-2.600 1.200z" fill="#9299b0"/></svg>
<div class="t" style="left:3257.9px;top:252px;font-size:15px;font-weight:500;color:#8690a6;letter-spacing:0.07px;word-spacing:-0.60px;">지도 오버레이</div>
<div style="left:570px;top:332px;width:3240px;height:360px;background:#1a2236;border:1px solid #1e2a42;border-radius:14.5px;"></div>
<svg style="left:598px;top:360.8px" width="16.2" height="16.2" viewBox="0 0 16 16" preserveAspectRatio="none"><rect x="0" y="0" width="16" height="16" rx="1.6" fill="#e1d9ea"/><path d="M5.3 0v16M10.6 0v16M0 5.3h16M0 10.6h16" stroke="#cbc1d8" stroke-width=".6"/><path d="M0.6 13.6L5.6 9.2l2 1.6L15.6 2.6" stroke="#3a8fe8" stroke-width="1.5" fill="none" stroke-linejoin="round"/></svg>
<div class="t" style="left:620.9px;top:349px;font-size:16.5px;font-weight:700;color:#06b6d4;letter-spacing:-0.04px;word-spacing:-1.57px;">GM (복원심) 변화 추이 (m)</div>
<div style="left:570px;top:716px;width:1608px;height:329px;background:#1a2236;border:1px solid #1e2a42;border-radius:14.5px;"></div>
<svg style="left:598px;top:744.8px" width="16.2" height="16" viewBox="0 0 16 16" preserveAspectRatio="none"><rect x="0" y="0" width="16" height="16" rx="1.6" fill="#e1d9ea"/><path d="M5.3 0v16M10.6 0v16M0 5.3h16M0 10.6h16" stroke="#cbc1d8" stroke-width=".6"/><path d="M0.4 2.4L8 10.4l2.2-1.8l5.4 5.4" stroke="#ee2f78" stroke-width="1.5" fill="none" stroke-linejoin="round"/></svg>
<div class="t" style="left:620.8px;top:733px;font-size:16.5px;font-weight:700;color:#f97316;letter-spacing:-0.09px;word-spacing:-1.57px;">횡경사 (List) 변화 (°)</div>
<div style="left:2202px;top:716px;width:1608px;height:329px;background:#1a2236;border:1px solid #1e2a42;border-radius:14.5px;"></div>
<svg style="left:2230px;top:745px" width="16.1" height="16" viewBox="0 0 16 16" preserveAspectRatio="none"><rect x="0" y="0" width="16" height="16" rx="2.2" fill="#e1d9ea"/><rect x="5.1" y="0" width=".8" height="16" fill="#c6bcd4"/><rect x="10.1" y="0" width=".8" height="16" fill="#c6bcd4"/><rect x="1.2" y="4" width="3.8" height="12" rx="1.1" fill="#86e052"/><rect x="6.1" y="8.6" width="3.8" height="7.4" rx="1.1" fill="#ee2f78"/><rect x="11" y="2" width="3.8" height="14" rx="1.1" fill="#3a8ff0"/></svg>
<div class="t" style="left:2253.5px;top:733px;font-size:16.5px;font-weight:700;color:#ef4444;letter-spacing:-0.05px;word-spacing:-1.57px;">유출률 변화 (L/min)</div>
<div style="left:570px;top:1069px;width:3240px;height:390px;background:#1a2236;border:1px solid #1e2a42;border-radius:14.5px;"></div>
<svg style="left:599.7px;top:1098px" width="13.8" height="16" viewBox="0 0 13 16" preserveAspectRatio="none"><rect x="0" y="1.2" width="13" height="14.8" rx="1.2" fill="#e39a62"/><rect x="1.2" y="2.4" width="10.6" height="12.4" rx=".5" fill="#e6deef"/><rect x="3.8" y="0" width="5.4" height="3" rx="1" fill="#8c8196"/><rect x="2.6" y="5.2" width="7.8" height=".9" fill="#b3a8c2"/><rect x="2.6" y="7.4" width="7.8" height=".9" fill="#b3a8c2"/><rect x="2.6" y="9.6" width="7.8" height=".9" fill="#b3a8c2"/><rect x="2.6" y="11.8" width="4.4" height=".9" fill="#b3a8c2"/><path d="M8.4 14.8l3.4-3.4v3.4z" fill="#e39a62"/></svg>
<div class="t" style="left:620.8px;top:1087px;font-size:16.5px;font-weight:700;color:#fff;word-spacing:-1.10px;">시나리오 종합 비교표</div>
<svg style="left:0;top:0" width="3840" height="1907" viewBox="0 0 3840 1907"><line x1="1904.9" y1="636.9" x2="2474.9" y2="636.9" stroke="#273148" stroke-width="1.3"/><text x="1895.7" y="642.1" font-size="11.6" fill="#7d879f" text-anchor="end" font-weight="400" font-family="'DejaVu Sans Mono','Liberation Mono','Noto Sans CJK KR',monospace" >0</text><line x1="1904.9" y1="584.4" x2="2474.9" y2="584.4" stroke="#273148" stroke-width="1.3"/><text x="1895.7" y="589.6" font-size="11.6" fill="#7d879f" text-anchor="end" font-weight="400" font-family="'DejaVu Sans Mono','Liberation Mono','Noto Sans CJK KR',monospace" >0.5</text><line x1="1904.9" y1="531.9" x2="2474.9" y2="531.9" stroke="#273148" stroke-width="1.3"/><text x="1895.7" y="537.1" font-size="11.6" fill="#7d879f" text-anchor="end" font-weight="400" font-family="'DejaVu Sans Mono','Liberation Mono','Noto Sans CJK KR',monospace" >1</text><line x1="1904.9" y1="479.4" x2="2474.9" y2="479.4" stroke="#273148" stroke-width="1.3"/><text x="1895.7" y="484.6" font-size="11.6" fill="#7d879f" text-anchor="end" font-weight="400" font-family="'DejaVu Sans Mono','Liberation Mono','Noto Sans CJK KR',monospace" >1.5</text><line x1="1904.9" y1="426.9" x2="2474.9" y2="426.9" stroke="#273148" stroke-width="1.3"/><text x="1895.7" y="432.1" font-size="11.6" fill="#7d879f" text-anchor="end" font-weight="400" font-family="'DejaVu Sans Mono','Liberation Mono','Noto Sans CJK KR',monospace" >2</text><polygon points="1904.9,636.9 1904.9,552.9 2047.4,573.9 2189.9,594.9 2332.4,573.9 2474.9,510.9 2474.9,636.9" fill="rgba(6,182,212,.07)"/><line x1="1904.9" y1="531.9" x2="2474.9" y2="531.9" stroke="rgba(239,68,68,.5)" stroke-width="1.5" stroke-dasharray="6.2 6"/><text x="2481.4" y="537.4" font-size="10" fill="#ef4444" text-anchor="start" font-weight="700" font-family="'Liberation Sans','Noto Sans CJK KR',sans-serif" >GM=1.0 위험</text><polyline points="1904.9,552.9 2047.4,573.9 2189.9,594.9 2332.4,573.9 2474.9,510.9" fill="none" stroke="#06b6d4" stroke-width="3" stroke-linejoin="round" stroke-linecap="round"/><circle cx="1904.9" cy="552.9" r="5.9" fill="#f87171" stroke="#0a0e1a" stroke-width="2"/><text x="1904.9" y="541.1" font-size="12" fill="#edf0f7" text-anchor="middle" font-weight="700" font-family="'DejaVu Sans Mono','Liberation Mono','Noto Sans CJK KR',monospace" >0.8</text><text x="1904.9" y="658.2" font-size="11.6" fill="#7d879f" text-anchor="middle" font-weight="400" font-family="'DejaVu Sans Mono','Liberation Mono','Noto Sans CJK KR',monospace" >T+0h</text><circle cx="2047.4" cy="573.9" r="5.9" fill="#fb923c" stroke="#0a0e1a" stroke-width="2"/><text x="2047.4" y="562.1" font-size="12" fill="#edf0f7" text-anchor="middle" font-weight="700" font-family="'DejaVu Sans Mono','Liberation Mono','Noto Sans CJK KR',monospace" >0.6</text><text x="2047.4" y="658.2" font-size="11.6" fill="#7d879f" text-anchor="middle" font-weight="400" font-family="'DejaVu Sans Mono','Liberation Mono','Noto Sans CJK KR',monospace" >T+2h</text><circle cx="2189.9" cy="594.9" r="5.9" fill="#fb923c" stroke="#0a0e1a" stroke-width="2"/><text x="2189.9" y="583.1" font-size="12" fill="#edf0f7" text-anchor="middle" font-weight="700" font-family="'DejaVu Sans Mono','Liberation Mono','Noto Sans CJK KR',monospace" >0.4</text><text x="2189.9" y="658.2" font-size="11.6" fill="#7d879f" text-anchor="middle" font-weight="400" font-family="'DejaVu Sans Mono','Liberation Mono','Noto Sans CJK KR',monospace" >T+6h</text><circle cx="2332.4" cy="573.9" r="5.9" fill="#fbbf24" stroke="#0a0e1a" stroke-width="2"/><text x="2332.4" y="562.1" font-size="12" fill="#edf0f7" text-anchor="middle" font-weight="700" font-family="'DejaVu Sans Mono','Liberation Mono','Noto Sans CJK KR',monospace" >0.6</text><text x="2332.4" y="658.2" font-size="11.6" fill="#7d879f" text-anchor="middle" font-weight="400" font-family="'DejaVu Sans Mono','Liberation Mono','Noto Sans CJK KR',monospace" >T+12h</text><circle cx="2474.9" cy="510.9" r="5.9" fill="#22c55e" stroke="#0a0e1a" stroke-width="2"/><text x="2474.9" y="499.1" font-size="12" fill="#edf0f7" text-anchor="middle" font-weight="700" font-family="'DejaVu Sans Mono','Liberation Mono','Noto Sans CJK KR',monospace" >1.2</text><text x="2474.9" y="658.2" font-size="11.6" fill="#7d879f" text-anchor="middle" font-weight="400" font-family="'DejaVu Sans Mono','Liberation Mono','Noto Sans CJK KR',monospace" >T+24h</text><line x1="1120.7" y1="993.3" x2="1627.2" y2="993.3" stroke="#273148" stroke-width="1"/><text x="1112.3" y="997.6" font-size="8.9" fill="#7d879f" text-anchor="end" font-weight="400" font-family="'DejaVu Sans Mono','Liberation Mono','Noto Sans CJK KR',monospace" >0</text><line x1="1120.7" y1="955.9" x2="1627.2" y2="955.9" stroke="#273148" stroke-width="1"/><text x="1112.3" y="960.2" font-size="8.9" fill="#7d879f" text-anchor="end" font-weight="400" font-family="'DejaVu Sans Mono','Liberation Mono','Noto Sans CJK KR',monospace" >5</text><line x1="1120.7" y1="918.6" x2="1627.2" y2="918.6" stroke="#273148" stroke-width="1"/><text x="1112.3" y="922.9" font-size="8.9" fill="#7d879f" text-anchor="end" font-weight="400" font-family="'DejaVu Sans Mono','Liberation Mono','Noto Sans CJK KR',monospace" >10</text><line x1="1120.7" y1="881.2" x2="1627.2" y2="881.2" stroke="#273148" stroke-width="1"/><text x="1112.3" y="885.5" font-size="8.9" fill="#7d879f" text-anchor="end" font-weight="400" font-family="'DejaVu Sans Mono','Liberation Mono','Noto Sans CJK KR',monospace" >15</text><line x1="1120.7" y1="843.9" x2="1627.2" y2="843.9" stroke="#273148" stroke-width="1"/><text x="1112.3" y="848.2" font-size="8.9" fill="#7d879f" text-anchor="end" font-weight="400" font-family="'DejaVu Sans Mono','Liberation Mono','Noto Sans CJK KR',monospace" >20</text><line x1="1120.7" y1="806.5" x2="1627.2" y2="806.5" stroke="#273148" stroke-width="1"/><text x="1112.3" y="810.8" font-size="8.9" fill="#7d879f" text-anchor="end" font-weight="400" font-family="'DejaVu Sans Mono','Liberation Mono','Noto Sans CJK KR',monospace" >25</text><line x1="1120.7" y1="881.2" x2="1627.2" y2="881.2" stroke="rgba(239,68,68,.4)" stroke-width="1" stroke-dasharray="5.3 5.3"/><polyline points="1120.7,881.2 1247.3,858.8 1374.0,903.6 1500.6,933.5 1627.2,970.9" fill="none" stroke="#f97316" stroke-width="2.6" stroke-linejoin="round" stroke-linecap="round"/><circle cx="1120.7" cy="881.2" r="4.5" fill="#f87171" stroke="#0a0e1a" stroke-width="1.5"/><text x="1120.7" y="1011.8" font-size="8.9" fill="#7d879f" text-anchor="middle" font-weight="400" font-family="'DejaVu Sans Mono','Liberation Mono','Noto Sans CJK KR',monospace" >T+0h</text><circle cx="1247.3" cy="858.8" r="4.5" fill="#fb923c" stroke="#0a0e1a" stroke-width="1.5"/><text x="1247.3" y="1011.8" font-size="8.9" fill="#7d879f" text-anchor="middle" font-weight="400" font-family="'DejaVu Sans Mono','Liberation Mono','Noto Sans CJK KR',monospace" >T+2h</text><circle cx="1374.0" cy="903.6" r="4.5" fill="#fb923c" stroke="#0a0e1a" stroke-width="1.5"/><text x="1374.0" y="1011.8" font-size="8.9" fill="#7d879f" text-anchor="middle" font-weight="400" font-family="'DejaVu Sans Mono','Liberation Mono','Noto Sans CJK KR',monospace" >T+6h</text><circle cx="1500.6" cy="933.5" r="4.5" fill="#fbbf24" stroke="#0a0e1a" stroke-width="1.5"/><text x="1500.6" y="1011.8" font-size="8.9" fill="#7d879f" text-anchor="middle" font-weight="400" font-family="'DejaVu Sans Mono','Liberation Mono','Noto Sans CJK KR',monospace" >T+12h</text><circle cx="1627.2" cy="970.9" r="4.5" fill="#22c55e" stroke="#0a0e1a" stroke-width="1.5"/><text x="1627.2" y="1011.8" font-size="8.9" fill="#7d879f" text-anchor="middle" font-weight="400" font-family="'DejaVu Sans Mono','Liberation Mono','Noto Sans CJK KR',monospace" >T+24h</text><line x1="2753" y1="993.1" x2="3259.4" y2="993.1" stroke="#273148" stroke-width="1"/><text x="2744.5" y="997.4" font-size="8.9" fill="#7d879f" text-anchor="end" font-weight="400" font-family="'DejaVu Sans Mono','Liberation Mono','Noto Sans CJK KR',monospace" >0</text><line x1="2753" y1="946.5" x2="3259.4" y2="946.5" stroke="#273148" stroke-width="1"/><text x="2744.5" y="950.8" font-size="8.9" fill="#7d879f" text-anchor="end" font-weight="400" font-family="'DejaVu Sans Mono','Liberation Mono','Noto Sans CJK KR',monospace" >50</text><line x1="2753" y1="899.8" x2="3259.4" y2="899.8" stroke="#273148" stroke-width="1"/><text x="2744.5" y="904.1" font-size="8.9" fill="#7d879f" text-anchor="end" font-weight="400" font-family="'DejaVu Sans Mono','Liberation Mono','Noto Sans CJK KR',monospace" >100</text><line x1="2753" y1="853.1" x2="3259.4" y2="853.1" stroke="#273148" stroke-width="1"/><text x="2744.5" y="857.4" font-size="8.9" fill="#7d879f" text-anchor="end" font-weight="400" font-family="'DejaVu Sans Mono','Liberation Mono','Noto Sans CJK KR',monospace" >150</text><line x1="2753" y1="806.5" x2="3259.4" y2="806.5" stroke="#273148" stroke-width="1"/><text x="2744.5" y="810.8" font-size="8.9" fill="#7d879f" text-anchor="end" font-weight="400" font-family="'DejaVu Sans Mono','Liberation Mono','Noto Sans CJK KR',monospace" >200</text><rect x="2721.4" y="899.8" width="63.2" height="93.6" rx="3.8" fill="#f87171" fill-opacity=".7"/><text x="2753.0" y="895.0" font-size="10.7" fill="#edf0f7" text-anchor="middle" font-weight="700" font-family="'DejaVu Sans Mono','Liberation Mono','Noto Sans CJK KR',monospace" >100</text><text x="2753.0" y="1011.8" font-size="8.9" fill="#7d879f" text-anchor="middle" font-weight="400" font-family="'DejaVu Sans Mono','Liberation Mono','Noto Sans CJK KR',monospace" >T+0h</text><rect x="2848.0" y="853.1" width="63.2" height="140.3" rx="3.8" fill="#fb923c" fill-opacity=".7"/><text x="2879.6" y="848.4" font-size="10.7" fill="#edf0f7" text-anchor="middle" font-weight="700" font-family="'DejaVu Sans Mono','Liberation Mono','Noto Sans CJK KR',monospace" >150</text><text x="2879.6" y="1011.8" font-size="8.9" fill="#7d879f" text-anchor="middle" font-weight="400" font-family="'DejaVu Sans Mono','Liberation Mono','Noto Sans CJK KR',monospace" >T+2h</text><rect x="2974.6" y="918.5" width="63.2" height="74.9" rx="3.8" fill="#fb923c" fill-opacity=".7"/><text x="3006.2" y="913.7" font-size="10.7" fill="#edf0f7" text-anchor="middle" font-weight="700" font-family="'DejaVu Sans Mono','Liberation Mono','Noto Sans CJK KR',monospace" >80</text><text x="3006.2" y="1011.8" font-size="8.9" fill="#7d879f" text-anchor="middle" font-weight="400" font-family="'DejaVu Sans Mono','Liberation Mono','Noto Sans CJK KR',monospace" >T+6h</text><rect x="3101.2" y="965.1" width="63.2" height="28.3" rx="3.8" fill="#fbbf24" fill-opacity=".7"/><text x="3132.8" y="960.3" font-size="10.7" fill="#edf0f7" text-anchor="middle" font-weight="700" font-family="'DejaVu Sans Mono','Liberation Mono','Noto Sans CJK KR',monospace" >30</text><text x="3132.8" y="1011.8" font-size="8.9" fill="#7d879f" text-anchor="middle" font-weight="400" font-family="'DejaVu Sans Mono','Liberation Mono','Noto Sans CJK KR',monospace" >T+12h</text><rect x="3227.8" y="988.4" width="63.2" height="5.0" rx="3.8" fill="#22c55e" fill-opacity=".7"/><text x="3259.4" y="983.6" font-size="10.7" fill="#edf0f7" text-anchor="middle" font-weight="700" font-family="'DejaVu Sans Mono','Liberation Mono','Noto Sans CJK KR',monospace" >5</text><text x="3259.4" y="1011.8" font-size="8.9" fill="#7d879f" text-anchor="middle" font-weight="400" font-family="'DejaVu Sans Mono','Liberation Mono','Noto Sans CJK KR',monospace" >T+24h</text></svg>
<div style="left:595px;top:1134px;width:3190px;height:62px;background:rgba(6,182,212,.06)"></div>
<div style="left:595px;top:1196px;width:3190px;height:3px;background:#2a3a5e"></div>
<div class="t" style="left:606.7px;top:1146px;font-size:13.5px;font-weight:700;color:#06b6d4;letter-spacing:0.10px;">지표</div>
<div class="t" style="left:1608.7px;top:1136px;font-size:13.5px;font-weight:700;color:#f87171;letter-spacing:0.13px;">S-01</div>
<div class="t" style="left:1609.2px;top:1156px;font-size:12.4px;font-weight:400;color:#8690a6;">T+0h</div>
<div class="t" style="left:2101.3px;top:1136px;font-size:13.5px;font-weight:700;color:#fb923c;letter-spacing:0.13px;">S-02</div>
<div class="t" style="left:2101.8px;top:1156px;font-size:12.4px;font-weight:400;color:#8690a6;">T+2h</div>
<div class="t" style="left:2483.8px;top:1136px;font-size:13.5px;font-weight:700;color:#fb923c;letter-spacing:0.13px;">S-03</div>
<div class="t" style="left:2484.3px;top:1156px;font-size:12.4px;font-weight:400;color:#8690a6;">T+6h</div>
<div class="t" style="left:2922.3px;top:1136px;font-size:13.5px;font-weight:700;color:#fbbf24;letter-spacing:-0.20px;">S-04</div>
<div class="t" style="left:2918.8px;top:1156px;font-size:12.4px;font-weight:400;color:#8690a6;">T+12h</div>
<div class="t" style="left:3469.1px;top:1136px;font-size:13.5px;font-weight:700;color:#22c55e;letter-spacing:0.13px;">S-05</div>
<div class="t" style="left:3466.1px;top:1156px;font-size:12.4px;font-weight:400;color:#8690a6;">T+24h</div>
<div class="t" style="left:606.7px;top:1198px;font-size:13.5px;font-weight:600;color:#b0b8cc;letter-spacing:-0.18px;">GM (m)</div>
<div class="t" style="left:1610.7px;top:1198px;font-size:13.5px;font-weight:700;color:#ef4444;font-family:'DejaVu Sans Mono','Liberation Mono','Noto Sans CJK KR',monospace;">0.8</div>
<div class="t" style="left:2103.3px;top:1198px;font-size:13.5px;font-weight:700;color:#ef4444;font-family:'DejaVu Sans Mono','Liberation Mono','Noto Sans CJK KR',monospace;">0.6</div>
<div class="t" style="left:2485.8px;top:1198px;font-size:13.5px;font-weight:700;color:#ef4444;font-family:'DejaVu Sans Mono','Liberation Mono','Noto Sans CJK KR',monospace;">0.4</div>
<div class="t" style="left:2923.8px;top:1198px;font-size:13.5px;font-weight:700;color:#ef4444;font-family:'DejaVu Sans Mono','Liberation Mono','Noto Sans CJK KR',monospace;">0.6</div>
<div class="t" style="left:3471.1px;top:1198px;font-size:13.5px;font-weight:700;color:#eab308;font-family:'DejaVu Sans Mono','Liberation Mono','Noto Sans CJK KR',monospace;">1.2</div>
<div style="left:595px;top:1237px;width:3190px;height:1px;background:#232b3f"></div>
<div class="t" style="left:606.7px;top:1238px;font-size:13.5px;font-weight:600;color:#b0b8cc;letter-spacing:-0.23px;word-spacing:-1.28px;">횡경사 (°)</div>
<div class="t" style="left:1611.2px;top:1238px;font-size:13.5px;font-weight:700;color:#eab308;font-family:'DejaVu Sans Mono','Liberation Mono','Noto Sans CJK KR',monospace;">15°</div>
<div class="t" style="left:2103.8px;top:1238px;font-size:13.5px;font-weight:700;color:#eab308;font-family:'DejaVu Sans Mono','Liberation Mono','Noto Sans CJK KR',monospace;">18°</div>
<div class="t" style="left:2486.3px;top:1238px;font-size:13.5px;font-weight:700;color:#eab308;font-family:'DejaVu Sans Mono','Liberation Mono','Noto Sans CJK KR',monospace;">12°</div>
<div class="t" style="left:2928.3px;top:1238px;font-size:13.5px;font-weight:700;color:#22c55e;font-family:'DejaVu Sans Mono','Liberation Mono','Noto Sans CJK KR',monospace;">8°</div>
<div class="t" style="left:3475.6px;top:1238px;font-size:13.5px;font-weight:700;color:#22c55e;font-family:'DejaVu Sans Mono','Liberation Mono','Noto Sans CJK KR',monospace;">3°</div>
<div style="left:595px;top:1276px;width:3190px;height:1px;background:#232b3f"></div>
<div class="t" style="left:606.7px;top:1277px;font-size:13.5px;font-weight:600;color:#b0b8cc;letter-spacing:-0.29px;word-spacing:-1.28px;">잔존부력 <span style="letter-spacing:-1.1px">(%)</span></div>
<div class="t" style="left:1610.7px;top:1276px;font-size:13.5px;font-weight:700;color:#eab308;font-family:'DejaVu Sans Mono','Liberation Mono','Noto Sans CJK KR',monospace;">30%</div>
<div class="t" style="left:2103.8px;top:1276px;font-size:13.5px;font-weight:700;color:#ef4444;font-family:'DejaVu Sans Mono','Liberation Mono','Noto Sans CJK KR',monospace;">25%</div>
<div class="t" style="left:2485.8px;top:1276px;font-size:13.5px;font-weight:700;color:#eab308;font-family:'DejaVu Sans Mono','Liberation Mono','Noto Sans CJK KR',monospace;">35%</div>
<div class="t" style="left:2923.8px;top:1276px;font-size:13.5px;font-weight:700;color:#22c55e;font-family:'DejaVu Sans Mono','Liberation Mono','Noto Sans CJK KR',monospace;">50%</div>
<div class="t" style="left:3471.1px;top:1276px;font-size:13.5px;font-weight:700;color:#22c55e;font-family:'DejaVu Sans Mono','Liberation Mono','Noto Sans CJK KR',monospace;">75%</div>
<div style="left:595px;top:1315px;width:3190px;height:1px;background:#232b3f"></div>
<div class="t" style="left:606.7px;top:1316px;font-size:13.5px;font-weight:600;color:#b0b8cc;letter-spacing:-0.15px;word-spacing:-1.28px;">유출률 (L/min)</div>
<div class="t" style="left:1610.7px;top:1316px;font-size:13.5px;font-weight:700;color:#f97316;font-family:'DejaVu Sans Mono','Liberation Mono','Noto Sans CJK KR',monospace;">100</div>
<div class="t" style="left:2103.3px;top:1316px;font-size:13.5px;font-weight:700;color:#ef4444;font-family:'DejaVu Sans Mono','Liberation Mono','Noto Sans CJK KR',monospace;">150</div>
<div class="t" style="left:2489.8px;top:1316px;font-size:13.5px;font-weight:700;color:#f97316;font-family:'DejaVu Sans Mono','Liberation Mono','Noto Sans CJK KR',monospace;">80</div>
<div class="t" style="left:2927.8px;top:1316px;font-size:13.5px;font-weight:700;color:#eab308;font-family:'DejaVu Sans Mono','Liberation Mono','Noto Sans CJK KR',monospace;">30</div>
<div class="t" style="left:3479.6px;top:1316px;font-size:13.5px;font-weight:700;color:#eab308;font-family:'DejaVu Sans Mono','Liberation Mono','Noto Sans CJK KR',monospace;">5</div>
<div style="left:595px;top:1355px;width:3190px;height:1px;background:#232b3f"></div>
<div class="t" style="left:605.7px;top:1356px;font-size:13.5px;font-weight:600;color:#b0b8cc;letter-spacing:-0.05px;word-spacing:-1.20px;"><span style="letter-spacing:-0.8px">BM</span> 비율 <span style="letter-spacing:-1.1px">(%)</span></div>
<div class="t" style="left:1610.7px;top:1355px;font-size:13.5px;font-weight:700;color:#f97316;font-family:'DejaVu Sans Mono','Liberation Mono','Noto Sans CJK KR',monospace;">92%</div>
<div class="t" style="left:2103.3px;top:1355px;font-size:13.5px;font-weight:700;color:#f97316;font-family:'DejaVu Sans Mono','Liberation Mono','Noto Sans CJK KR',monospace;">88%</div>
<div class="t" style="left:2485.8px;top:1355px;font-size:13.5px;font-weight:700;color:#f97316;font-family:'DejaVu Sans Mono','Liberation Mono','Noto Sans CJK KR',monospace;">90%</div>
<div class="t" style="left:2923.8px;top:1355px;font-size:13.5px;font-weight:700;color:#f97316;font-family:'DejaVu Sans Mono','Liberation Mono','Noto Sans CJK KR',monospace;">94%</div>
<div class="t" style="left:3471.1px;top:1355px;font-size:13.5px;font-weight:700;color:#f97316;font-family:'DejaVu Sans Mono','Liberation Mono','Noto Sans CJK KR',monospace;">98%</div>
<div style="left:595px;top:1394px;width:3190px;height:1px;background:#232b3f"></div>
<div class="t" style="left:606.7px;top:1395px;font-size:13.5px;font-weight:600;color:#b0b8cc;letter-spacing:-0.20px;word-spacing:-1.28px;">위험 등급</div>
<div class="t" style="left:1590.2px;top:1394px;font-size:13.5px;font-weight:700;color:#f87171;font-family:'DejaVu Sans Mono','Liberation Mono','Noto Sans CJK KR',monospace;">CRITICAL</div>
<div class="t" style="left:2099.3px;top:1394px;font-size:13.5px;font-weight:700;color:#fb923c;font-family:'DejaVu Sans Mono','Liberation Mono','Noto Sans CJK KR',monospace;">HIGH</div>
<div class="t" style="left:2481.8px;top:1394px;font-size:13.5px;font-weight:700;color:#fb923c;font-family:'DejaVu Sans Mono','Liberation Mono','Noto Sans CJK KR',monospace;">HIGH</div>
<div class="t" style="left:2911.8px;top:1394px;font-size:13.5px;font-weight:700;color:#fbbf24;font-family:'DejaVu Sans Mono','Liberation Mono','Noto Sans CJK KR',monospace;">MEDIUM</div>
<div class="t" style="left:3450.6px;top:1394px;font-size:13.5px;font-weight:700;color:#22c55e;font-family:'DejaVu Sans Mono','Liberation Mono','Noto Sans CJK KR',monospace;">RESOLVED</div>
<div style="left:595px;top:1433px;width:3190px;height:1px;background:#232b3f"></div>
</body></html>
